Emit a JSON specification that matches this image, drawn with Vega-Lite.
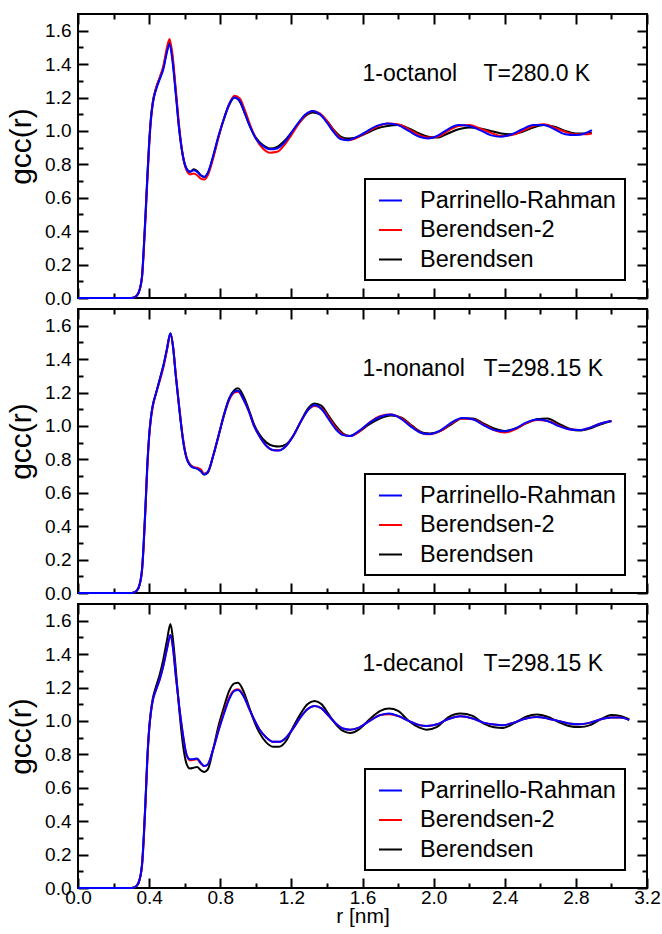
{
 "$schema": "https://vega.github.io/schema/vega-lite/v6.json",
 "padding": {"left": 5, "top": 12, "right": 5, "bottom": 2},
 "background": "white",
 "bounds": "flush",
 "spacing": 11,
 "config": {
  "view": {"stroke": "black", "strokeWidth": 2},
  "font": "Liberation Sans",
  "axis": {"domain": false, "grid": false, "labelFont": "Liberation Sans", "labelFontSize": 19, "labelColor": "black", "titleFont": "Liberation Sans", "titleFontWeight": "normal", "titleColor": "black", "tickColor": "black", "tickWidth": 2, "labelOverlap": false, "labelFlush": false},
  "legend": {"orient": "none", "legendX": 287, "legendY": 165, "strokeColor": "black", "fillColor": "white", "padding": 9, "symbolType": "stroke", "symbolSize": 529, "symbolStrokeWidth": 2, "labelFontSize": 23.5, "labelFont": "Liberation Sans", "labelColor": "black", "rowPadding": 5.5, "labelOffset": 17, "symbolOffset": 4, "labelLimit": 400, "strokeWidth": 2}
 },
 "datasets": {
  "oct": [
   {"r":0,"PR":0,"B2":0,"B":0},{"r":0.30,"PR":0,"B2":0,"B":0},{"r":0.32,"PR":0.005,"B2":0.005,"B":0.005},{"r":0.34,"PR":0.03,"B2":0.03,"B":0.03},{"r":0.36,"PR":0.13,"B2":0.12,"B":0.13},{"r":0.37,"PR":0.30,"B2":0.28,"B":0.30},{"r":0.38,"PR":0.50,"B2":0.48,"B":0.51},{"r":0.39,"PR":0.72,"B2":0.70,"B":0.73},{"r":0.40,"PR":0.92,"B2":0.90,"B":0.93},{"r":0.41,"PR":1.07,"B2":1.06,"B":1.08},{"r":0.42,"PR":1.16,"B2":1.16,"B":1.17},{"r":0.44,"PR":1.25,"B2":1.26,"B":1.26},{"r":0.46,"PR":1.31,"B2":1.32,"B":1.32},{"r":0.48,"PR":1.37,"B2":1.39,"B":1.38},{"r":0.50,"PR":1.47,"B2":1.50,"B":1.48},{"r":0.515,"PR":1.52,"B2":1.55,"B":1.53},{"r":0.53,"PR":1.43,"B2":1.47,"B":1.45},{"r":0.55,"PR":1.22,"B2":1.25,"B":1.23},{"r":0.57,"PR":1.00,"B2":1.02,"B":1.00},{"r":0.59,"PR":0.85,"B2":0.85,"B":0.85},{"r":0.61,"PR":0.775,"B2":0.765,"B":0.775},{"r":0.63,"PR":0.755,"B2":0.74,"B":0.755},{"r":0.65,"PR":0.765,"B2":0.745,"B":0.77},{"r":0.67,"PR":0.755,"B2":0.735,"B":0.76},{"r":0.69,"PR":0.735,"B2":0.715,"B":0.735},{"r":0.71,"PR":0.725,"B2":0.71,"B":0.725},{"r":0.73,"PR":0.75,"B2":0.735,"B":0.745},{"r":0.76,"PR":0.85,"B2":0.835,"B":0.845},{"r":0.79,"PR":0.97,"B2":0.96,"B":0.965},{"r":0.82,"PR":1.07,"B2":1.07,"B":1.07},{"r":0.85,"PR":1.16,"B2":1.16,"B":1.155},{"r":0.88,"PR":1.20,"B2":1.21,"B":1.20},{"r":0.91,"PR":1.18,"B2":1.195,"B":1.175},{"r":0.94,"PR":1.10,"B2":1.12,"B":1.10},{"r":0.97,"PR":1.02,"B2":1.03,"B":1.02},{"r":1.00,"PR":0.955,"B2":0.955,"B":0.96},{"r":1.04,"PR":0.91,"B2":0.895,"B":0.915},{"r":1.08,"PR":0.89,"B2":0.87,"B":0.895},{"r":1.12,"PR":0.895,"B2":0.875,"B":0.905},{"r":1.16,"PR":0.93,"B2":0.915,"B":0.94},{"r":1.20,"PR":0.99,"B2":0.975,"B":0.99},{"r":1.24,"PR":1.05,"B2":1.04,"B":1.045},{"r":1.28,"PR":1.10,"B2":1.095,"B":1.09},{"r":1.32,"PR":1.12,"B2":1.12,"B":1.11},{"r":1.36,"PR":1.10,"B2":1.105,"B":1.10},{"r":1.40,"PR":1.05,"B2":1.06,"B":1.06},{"r":1.44,"PR":0.99,"B2":1.0,"B":1.005},{"r":1.48,"PR":0.95,"B2":0.955,"B":0.965},{"r":1.52,"PR":0.945,"B2":0.945,"B":0.955},{"r":1.56,"PR":0.96,"B2":0.955,"B":0.96},{"r":1.62,"PR":0.995,"B2":0.99,"B":0.985},{"r":1.68,"PR":1.03,"B2":1.025,"B":1.015},{"r":1.74,"PR":1.045,"B2":1.045,"B":1.03},{"r":1.80,"PR":1.035,"B2":1.04,"B":1.035},{"r":1.86,"PR":1.0,"B2":1.01,"B":1.015},{"r":1.92,"PR":0.965,"B2":0.975,"B":0.985},{"r":1.97,"PR":0.955,"B2":0.96,"B":0.965},{"r":2.02,"PR":0.97,"B2":0.965,"B":0.96},{"r":2.08,"PR":1.01,"B2":1.0,"B":0.985},{"r":2.14,"PR":1.035,"B2":1.03,"B":1.01},{"r":2.20,"PR":1.03,"B2":1.035,"B":1.02},{"r":2.26,"PR":1.005,"B2":1.015,"B":1.015},{"r":2.32,"PR":0.975,"B2":0.99,"B":1.0},{"r":2.38,"PR":0.965,"B2":0.97,"B":0.985},{"r":2.44,"PR":0.98,"B2":0.975,"B":0.98},{"r":2.50,"PR":1.01,"B2":1.0,"B":0.995},{"r":2.56,"PR":1.035,"B2":1.03,"B":1.02},{"r":2.62,"PR":1.035,"B2":1.04,"B":1.035},{"r":2.68,"PR":1.01,"B2":1.02,"B":1.025},{"r":2.74,"PR":0.98,"B2":0.995,"B":1.0},{"r":2.80,"PR":0.975,"B2":0.98,"B":0.985},{"r":2.85,"PR":0.985,"B2":0.98,"B":0.985},{"r":2.89,"PR":1.005,"B2":0.985,"B":0.99}
  ],
  "non": [
   {"r":0,"PR":0,"B2":0,"B":0},{"r":0.30,"PR":0,"B2":0,"B":0},{"r":0.32,"PR":0.005,"B2":0.005,"B":0.005},{"r":0.34,"PR":0.03,"B2":0.03,"B":0.03},{"r":0.36,"PR":0.14,"B2":0.13,"B":0.14},{"r":0.37,"PR":0.31,"B2":0.29,"B":0.31},{"r":0.38,"PR":0.53,"B2":0.51,"B":0.53},{"r":0.39,"PR":0.77,"B2":0.75,"B":0.77},{"r":0.40,"PR":0.94,"B2":0.93,"B":0.94},{"r":0.41,"PR":1.05,"B2":1.04,"B":1.05},{"r":0.42,"PR":1.12,"B2":1.11,"B":1.12},{"r":0.44,"PR":1.20,"B2":1.20,"B":1.20},{"r":0.46,"PR":1.28,"B2":1.27,"B":1.28},{"r":0.48,"PR":1.36,"B2":1.35,"B":1.36},{"r":0.50,"PR":1.46,"B2":1.45,"B":1.46},{"r":0.52,"PR":1.555,"B2":1.55,"B":1.555},{"r":0.535,"PR":1.47,"B2":1.47,"B":1.47},{"r":0.55,"PR":1.30,"B2":1.31,"B":1.30},{"r":0.57,"PR":1.10,"B2":1.11,"B":1.10},{"r":0.59,"PR":0.92,"B2":0.93,"B":0.92},{"r":0.61,"PR":0.81,"B2":0.815,"B":0.81},{"r":0.63,"PR":0.765,"B2":0.77,"B":0.765},{"r":0.65,"PR":0.75,"B2":0.755,"B":0.75},{"r":0.67,"PR":0.745,"B2":0.75,"B":0.745},{"r":0.69,"PR":0.73,"B2":0.74,"B":0.73},{"r":0.71,"PR":0.71,"B2":0.715,"B":0.71},{"r":0.73,"PR":0.725,"B2":0.725,"B":0.72},{"r":0.76,"PR":0.82,"B2":0.82,"B":0.82},{"r":0.79,"PR":0.94,"B2":0.94,"B":0.94},{"r":0.82,"PR":1.06,"B2":1.06,"B":1.065},{"r":0.85,"PR":1.16,"B2":1.155,"B":1.165},{"r":0.88,"PR":1.205,"B2":1.20,"B":1.215},{"r":0.90,"PR":1.21,"B2":1.205,"B":1.225},{"r":0.93,"PR":1.16,"B2":1.16,"B":1.18},{"r":0.96,"PR":1.09,"B2":1.09,"B":1.10},{"r":0.99,"PR":1.00,"B2":1.00,"B":1.01},{"r":1.02,"PR":0.94,"B2":0.94,"B":0.95},{"r":1.06,"PR":0.88,"B2":0.88,"B":0.90},{"r":1.10,"PR":0.855,"B2":0.855,"B":0.88},{"r":1.13,"PR":0.853,"B2":0.855,"B":0.877},{"r":1.17,"PR":0.88,"B2":0.88,"B":0.89},{"r":1.21,"PR":0.94,"B2":0.94,"B":0.94},{"r":1.25,"PR":1.02,"B2":1.02,"B":1.02},{"r":1.29,"PR":1.09,"B2":1.09,"B":1.10},{"r":1.33,"PR":1.125,"B2":1.12,"B":1.135},{"r":1.37,"PR":1.10,"B2":1.105,"B":1.12},{"r":1.41,"PR":1.04,"B2":1.05,"B":1.06},{"r":1.45,"PR":0.98,"B2":0.99,"B":1.0},{"r":1.49,"PR":0.945,"B2":0.95,"B":0.955},{"r":1.53,"PR":0.94,"B2":0.94,"B":0.94},{"r":1.58,"PR":0.97,"B2":0.965,"B":0.965},{"r":1.64,"PR":1.02,"B2":1.02,"B":1.01},{"r":1.70,"PR":1.055,"B2":1.06,"B":1.045},{"r":1.76,"PR":1.068,"B2":1.068,"B":1.062},{"r":1.82,"PR":1.04,"B2":1.045,"B":1.05},{"r":1.88,"PR":0.99,"B2":0.995,"B":1.0},{"r":1.94,"PR":0.955,"B2":0.955,"B":0.96},{"r":1.98,"PR":0.952,"B2":0.95,"B":0.955},{"r":2.04,"PR":0.975,"B2":0.97,"B":0.97},{"r":2.10,"PR":1.02,"B2":1.015,"B":1.01},{"r":2.16,"PR":1.048,"B2":1.045,"B":1.045},{"r":2.22,"PR":1.04,"B2":1.04,"B":1.045},{"r":2.28,"PR":1.005,"B2":1.01,"B":1.015},{"r":2.34,"PR":0.975,"B2":0.975,"B":0.985},{"r":2.40,"PR":0.968,"B2":0.96,"B":0.97},{"r":2.46,"PR":0.985,"B2":0.98,"B":0.985},{"r":2.52,"PR":1.02,"B2":1.015,"B":1.015},{"r":2.58,"PR":1.038,"B2":1.035,"B":1.04},{"r":2.64,"PR":1.03,"B2":1.03,"B":1.045},{"r":2.70,"PR":1.0,"B2":1.005,"B":1.015},{"r":2.76,"PR":0.98,"B2":0.98,"B":0.985},{"r":2.82,"PR":0.975,"B2":0.975,"B":0.972},{"r":2.88,"PR":0.99,"B2":0.99,"B":0.985},{"r":2.94,"PR":1.015,"B2":1.015,"B":1.01},{"r":3.00,"PR":1.03,"B2":1.03,"B":1.03}
  ],
  "dec": [
   {"r":0,"PR":0,"B2":0,"B":0},{"r":0.30,"PR":0,"B2":0,"B":0},{"r":0.32,"PR":0.005,"B2":0.005,"B":0.005},{"r":0.34,"PR":0.03,"B2":0.03,"B":0.03},{"r":0.36,"PR":0.14,"B2":0.13,"B":0.14},{"r":0.37,"PR":0.31,"B2":0.29,"B":0.31},{"r":0.38,"PR":0.53,"B2":0.51,"B":0.53},{"r":0.39,"PR":0.78,"B2":0.76,"B":0.78},{"r":0.40,"PR":0.95,"B2":0.94,"B":0.95},{"r":0.41,"PR":1.05,"B2":1.05,"B":1.06},{"r":0.42,"PR":1.12,"B2":1.12,"B":1.13},{"r":0.44,"PR":1.19,"B2":1.19,"B":1.21},{"r":0.46,"PR":1.25,"B2":1.25,"B":1.28},{"r":0.48,"PR":1.33,"B2":1.33,"B":1.37},{"r":0.50,"PR":1.43,"B2":1.43,"B":1.48},{"r":0.52,"PR":1.515,"B2":1.515,"B":1.58},{"r":0.535,"PR":1.43,"B2":1.43,"B":1.48},{"r":0.55,"PR":1.27,"B2":1.27,"B":1.31},{"r":0.57,"PR":1.08,"B2":1.08,"B":1.06},{"r":0.59,"PR":0.92,"B2":0.92,"B":0.86},{"r":0.61,"PR":0.80,"B2":0.80,"B":0.745},{"r":0.63,"PR":0.77,"B2":0.765,"B":0.715},{"r":0.65,"PR":0.772,"B2":0.767,"B":0.72},{"r":0.67,"PR":0.775,"B2":0.77,"B":0.725},{"r":0.69,"PR":0.75,"B2":0.745,"B":0.705},{"r":0.71,"PR":0.73,"B2":0.73,"B":0.695},{"r":0.73,"PR":0.74,"B2":0.74,"B":0.71},{"r":0.76,"PR":0.83,"B2":0.83,"B":0.83},{"r":0.79,"PR":0.94,"B2":0.945,"B":0.97},{"r":0.82,"PR":1.04,"B2":1.05,"B":1.08},{"r":0.85,"PR":1.13,"B2":1.14,"B":1.18},{"r":0.88,"PR":1.18,"B2":1.185,"B":1.225},{"r":0.90,"PR":1.185,"B2":1.19,"B":1.228},{"r":0.93,"PR":1.15,"B2":1.155,"B":1.18},{"r":0.96,"PR":1.08,"B2":1.08,"B":1.09},{"r":0.99,"PR":1.01,"B2":1.01,"B":1.0},{"r":1.02,"PR":0.95,"B2":0.95,"B":0.93},{"r":1.06,"PR":0.90,"B2":0.90,"B":0.87},{"r":1.10,"PR":0.875,"B2":0.875,"B":0.845},{"r":1.13,"PR":0.875,"B2":0.875,"B":0.845},{"r":1.17,"PR":0.90,"B2":0.90,"B":0.88},{"r":1.21,"PR":0.955,"B2":0.955,"B":0.964},{"r":1.25,"PR":1.02,"B2":1.02,"B":1.04},{"r":1.29,"PR":1.07,"B2":1.07,"B":1.10},{"r":1.33,"PR":1.09,"B2":1.09,"B":1.12},{"r":1.37,"PR":1.075,"B2":1.075,"B":1.10},{"r":1.41,"PR":1.03,"B2":1.03,"B":1.04},{"r":1.45,"PR":0.985,"B2":0.985,"B":0.98},{"r":1.49,"PR":0.955,"B2":0.955,"B":0.94},{"r":1.53,"PR":0.948,"B2":0.948,"B":0.928},{"r":1.58,"PR":0.96,"B2":0.96,"B":0.95},{"r":1.64,"PR":1.0,"B2":1.0,"B":1.01},{"r":1.70,"PR":1.035,"B2":1.035,"B":1.06},{"r":1.75,"PR":1.044,"B2":1.04,"B":1.074},{"r":1.80,"PR":1.03,"B2":1.03,"B":1.06},{"r":1.86,"PR":1.0,"B2":1.0,"B":1.0},{"r":1.92,"PR":0.975,"B2":0.975,"B":0.96},{"r":1.96,"PR":0.97,"B2":0.97,"B":0.948},{"r":2.02,"PR":0.98,"B2":0.98,"B":0.965},{"r":2.08,"PR":1.01,"B2":1.01,"B":1.02},{"r":2.15,"PR":1.028,"B2":1.028,"B":1.044},{"r":2.22,"PR":1.015,"B2":1.015,"B":1.03},{"r":2.28,"PR":0.99,"B2":0.99,"B":0.985},{"r":2.34,"PR":0.978,"B2":0.978,"B":0.962},{"r":2.39,"PR":0.974,"B2":0.974,"B":0.958},{"r":2.45,"PR":0.99,"B2":0.99,"B":0.985},{"r":2.52,"PR":1.015,"B2":1.015,"B":1.025},{"r":2.58,"PR":1.024,"B2":1.024,"B":1.038},{"r":2.64,"PR":1.015,"B2":1.015,"B":1.025},{"r":2.70,"PR":1.0,"B2":1.0,"B":0.995},{"r":2.76,"PR":0.985,"B2":0.985,"B":0.97},{"r":2.82,"PR":0.98,"B2":0.98,"B":0.963},{"r":2.88,"PR":0.99,"B2":0.99,"B":0.975},{"r":2.94,"PR":1.01,"B2":1.01,"B":1.01},{"r":3.00,"PR":1.02,"B2":1.02,"B":1.035},{"r":3.05,"PR":1.02,"B2":1.02,"B":1.03},{"r":3.10,"PR":1.005,"B2":1.005,"B":1.01}
  ]
 },
 "vconcat": [
  {
   "width": 569, "height": 284,
   "layer": [
    {
     "data": {"name": "oct"},
     "transform": [{"fold": ["B", "B2", "PR"], "as": ["s", "g"]}],
     "mark": {"type": "line", "strokeWidth": 2, "interpolate": "monotone"},
     "encoding": {
      "x": {"field": "r", "type": "quantitative", "scale": {"domain": [0, 3.2], "nice": false, "zero": false}, "axis": {"orient": "bottom", "values": [0,0.2,0.4,0.6,0.8,1,1.2,1.4,1.6,1.8,2,2.2,2.4,2.6,2.8,3,3.2], "tickSize": {"condition": {"test": "round(datum.value*5)%2==0", "value": -10}, "value": -5}, "labels": false, "title": null}},
      "y": {"field": "g", "type": "quantitative", "scale": {"domain": [0, 1.7], "nice": false}, "axis": {"orient": "left", "values": [0,0.1,0.2,0.3,0.4,0.5,0.6,0.7,0.8,0.9,1,1.1,1.2,1.3,1.4,1.5,1.6], "tickSize": {"condition": {"test": "round(datum.value*10)%2==0", "value": -10}, "value": -5}, "labelExpr": "round(datum.value*10)%2==0 ? format(datum.value,'.1f') : ''", "labelPadding": 17, "title": "gᴄᴄ(r)", "titleFontSize": 30, "titlePadding": 8, "titleY": 132}},
      "color": {"field": "s", "type": "nominal", "scale": {"domain": ["PR", "B2", "B"], "range": ["#0000ff", "#ff0000", "#000000"]}, "legend": {"title": null, "labelExpr": "datum.label=='PR' ? 'Parrinello-Rahman' : datum.label=='B2' ? 'Berendsen-2' : 'Berendsen'"}}
     }
    },
    {
     "data": {"values": [{"r": 0, "g": 0}]},
     "mark": {"type": "point", "opacity": 0},
     "encoding": {
      "x": {"field": "r", "type": "quantitative", "axis": {"orient": "top", "values": [0,0.2,0.4,0.6,0.8,1,1.2,1.4,1.6,1.8,2,2.2,2.4,2.6,2.8,3,3.2], "tickSize": {"condition": {"test": "round(datum.value*5)%2==0", "value": -10}, "value": -5}, "labels": false, "title": null}},
      "y": {"field": "g", "type": "quantitative", "axis": {"orient": "right", "values": [0,0.1,0.2,0.3,0.4,0.5,0.6,0.7,0.8,0.9,1,1.1,1.2,1.3,1.4,1.5,1.6], "tickSize": {"condition": {"test": "round(datum.value*10)%2==0", "value": -10}, "value": -5}, "labels": false, "title": null}}
     }
    },
    {
     "data": {"values": [{}]},
     "mark": {"type": "text", "fontSize": 23, "font": "Liberation Sans", "align": "left", "baseline": "alphabetic", "color": "black", "text": "1-octanol"},
     "encoding": {"x": {"datum": 1.6, "type": "quantitative", "axis": null}, "y": {"datum": 1.3, "type": "quantitative", "axis": null}}
    },
    {
     "data": {"values": [{}]},
     "mark": {"type": "text", "fontSize": 23, "font": "Liberation Sans", "align": "left", "baseline": "alphabetic", "color": "black", "text": "T=280.0 K"},
     "encoding": {"x": {"datum": 2.28, "type": "quantitative", "axis": null}, "y": {"datum": 1.3, "type": "quantitative", "axis": null}}
    }
   ],
   "resolve": {"axis": {"x": "independent", "y": "independent"}}
  },
  {
   "width": 569, "height": 284,
   "layer": [
    {
     "data": {"name": "non"},
     "transform": [{"fold": ["B", "B2", "PR"], "as": ["s", "g"]}],
     "mark": {"type": "line", "strokeWidth": 2, "interpolate": "monotone"},
     "encoding": {
      "x": {"field": "r", "type": "quantitative", "scale": {"domain": [0, 3.2], "nice": false, "zero": false}, "axis": {"orient": "bottom", "values": [0,0.2,0.4,0.6,0.8,1,1.2,1.4,1.6,1.8,2,2.2,2.4,2.6,2.8,3,3.2], "tickSize": {"condition": {"test": "round(datum.value*5)%2==0", "value": -10}, "value": -5}, "labels": false, "title": null}},
      "y": {"field": "g", "type": "quantitative", "scale": {"domain": [0, 1.7], "nice": false}, "axis": {"orient": "left", "values": [0,0.1,0.2,0.3,0.4,0.5,0.6,0.7,0.8,0.9,1,1.1,1.2,1.3,1.4,1.5,1.6], "tickSize": {"condition": {"test": "round(datum.value*10)%2==0", "value": -10}, "value": -5}, "labelExpr": "round(datum.value*10)%2==0 ? format(datum.value,'.1f') : ''", "labelPadding": 17, "title": "gᴄᴄ(r)", "titleFontSize": 30, "titlePadding": 8, "titleY": 132}},
      "color": {"field": "s", "type": "nominal", "scale": {"domain": ["PR", "B2", "B"], "range": ["#0000ff", "#ff0000", "#000000"]}, "legend": {"title": null, "labelExpr": "datum.label=='PR' ? 'Parrinello-Rahman' : datum.label=='B2' ? 'Berendsen-2' : 'Berendsen'"}}
     }
    },
    {
     "data": {"values": [{"r": 0, "g": 0}]},
     "mark": {"type": "point", "opacity": 0},
     "encoding": {
      "x": {"field": "r", "type": "quantitative", "axis": {"orient": "top", "values": [0,0.2,0.4,0.6,0.8,1,1.2,1.4,1.6,1.8,2,2.2,2.4,2.6,2.8,3,3.2], "tickSize": {"condition": {"test": "round(datum.value*5)%2==0", "value": -10}, "value": -5}, "labels": false, "title": null}},
      "y": {"field": "g", "type": "quantitative", "axis": {"orient": "right", "values": [0,0.1,0.2,0.3,0.4,0.5,0.6,0.7,0.8,0.9,1,1.1,1.2,1.3,1.4,1.5,1.6], "tickSize": {"condition": {"test": "round(datum.value*10)%2==0", "value": -10}, "value": -5}, "labels": false, "title": null}}
     }
    },
    {
     "data": {"values": [{}]},
     "mark": {"type": "text", "fontSize": 23, "font": "Liberation Sans", "align": "left", "baseline": "alphabetic", "color": "black", "text": "1-nonanol"},
     "encoding": {"x": {"datum": 1.6, "type": "quantitative", "axis": null}, "y": {"datum": 1.3, "type": "quantitative", "axis": null}}
    },
    {
     "data": {"values": [{}]},
     "mark": {"type": "text", "fontSize": 23, "font": "Liberation Sans", "align": "left", "baseline": "alphabetic", "color": "black", "text": "T=298.15 K"},
     "encoding": {"x": {"datum": 2.28, "type": "quantitative", "axis": null}, "y": {"datum": 1.3, "type": "quantitative", "axis": null}}
    }
   ],
   "resolve": {"axis": {"x": "independent", "y": "independent"}}
  },
  {
   "width": 569, "height": 284,
   "layer": [
    {
     "data": {"name": "dec"},
     "transform": [{"fold": ["B", "B2", "PR"], "as": ["s", "g"]}],
     "mark": {"type": "line", "strokeWidth": 2, "interpolate": "monotone"},
     "encoding": {
      "x": {"field": "r", "type": "quantitative", "scale": {"domain": [0, 3.2], "nice": false, "zero": false}, "axis": {"orient": "bottom", "values": [0,0.2,0.4,0.6,0.8,1,1.2,1.4,1.6,1.8,2,2.2,2.4,2.6,2.8,3,3.2], "tickSize": {"condition": {"test": "round(datum.value*5)%2==0", "value": -10}, "value": -5}, "labelExpr": "round(datum.value*5)%2==0 ? format(datum.value,'.1f') : ''", "labelPadding": 10, "title": "r [nm]", "titleFontSize": 21, "titlePadding": -7}},
      "y": {"field": "g", "type": "quantitative", "scale": {"domain": [0, 1.7], "nice": false}, "axis": {"orient": "left", "values": [0,0.1,0.2,0.3,0.4,0.5,0.6,0.7,0.8,0.9,1,1.1,1.2,1.3,1.4,1.5,1.6], "tickSize": {"condition": {"test": "round(datum.value*10)%2==0", "value": -10}, "value": -5}, "labelExpr": "round(datum.value*10)%2==0 ? format(datum.value,'.1f') : ''", "labelPadding": 17, "title": "gᴄᴄ(r)", "titleFontSize": 30, "titlePadding": 8, "titleY": 132}},
      "color": {"field": "s", "type": "nominal", "scale": {"domain": ["PR", "B2", "B"], "range": ["#0000ff", "#ff0000", "#000000"]}, "legend": {"title": null, "labelExpr": "datum.label=='PR' ? 'Parrinello-Rahman' : datum.label=='B2' ? 'Berendsen-2' : 'Berendsen'"}}
     }
    },
    {
     "data": {"values": [{"r": 0, "g": 0}]},
     "mark": {"type": "point", "opacity": 0},
     "encoding": {
      "x": {"field": "r", "type": "quantitative", "axis": {"orient": "top", "values": [0,0.2,0.4,0.6,0.8,1,1.2,1.4,1.6,1.8,2,2.2,2.4,2.6,2.8,3,3.2], "tickSize": {"condition": {"test": "round(datum.value*5)%2==0", "value": -10}, "value": -5}, "labels": false, "title": null}},
      "y": {"field": "g", "type": "quantitative", "axis": {"orient": "right", "values": [0,0.1,0.2,0.3,0.4,0.5,0.6,0.7,0.8,0.9,1,1.1,1.2,1.3,1.4,1.5,1.6], "tickSize": {"condition": {"test": "round(datum.value*10)%2==0", "value": -10}, "value": -5}, "labels": false, "title": null}}
     }
    },
    {
     "data": {"values": [{}]},
     "mark": {"type": "text", "fontSize": 23, "font": "Liberation Sans", "align": "left", "baseline": "alphabetic", "color": "black", "text": "1-decanol"},
     "encoding": {"x": {"datum": 1.6, "type": "quantitative", "axis": null}, "y": {"datum": 1.3, "type": "quantitative", "axis": null}}
    },
    {
     "data": {"values": [{}]},
     "mark": {"type": "text", "fontSize": 23, "font": "Liberation Sans", "align": "left", "baseline": "alphabetic", "color": "black", "text": "T=298.15 K"},
     "encoding": {"x": {"datum": 2.28, "type": "quantitative", "axis": null}, "y": {"datum": 1.3, "type": "quantitative", "axis": null}}
    }
   ],
   "resolve": {"axis": {"x": "independent", "y": "independent"}}
  }
 ],
 "resolve": {"scale": {"color": "independent"}, "legend": {"color": "independent"}}
}
